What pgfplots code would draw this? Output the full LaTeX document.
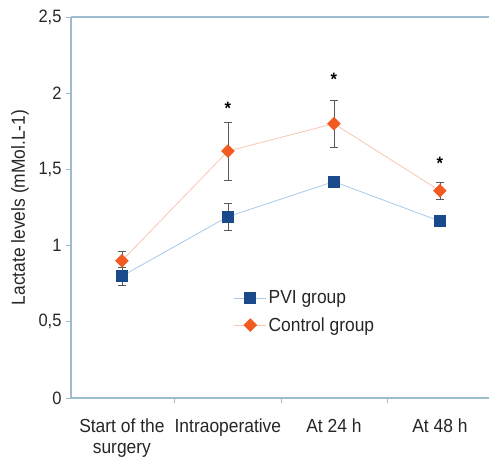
\documentclass[border=0pt]{standalone}
\usepackage{pgfplots}
\pgfplotsset{compat=1.18}
\usepackage{fontspec}
\setmainfont{Liberation Sans}[FakeStretch=0.92]
\definecolor{axisblue}{HTML}{9DBDCF}
\definecolor{pvimark}{HTML}{1B4A8C}
\definecolor{pviline}{HTML}{A9C8EA}
\definecolor{ctrlmark}{HTML}{F25A1F}
\definecolor{ctrlline}{HTML}{F9C6B2}
\definecolor{errgray}{HTML}{5A5A5A}
\definecolor{txt}{HTML}{262626}
\begin{document}
\begin{tikzpicture}
\useasboundingbox (-71bp,-60bp) rectangle (418bp,398bp);
\begin{axis}[
  at={(0,0)}, anchor=south west,
  scale only axis,
  width=418bp, height=381bp,
  xmin=-0.48, xmax=3.463,
  ymin=0, ymax=2.5,
  axis x line*=bottom,
  axis y line*=left,
  axis line style={axisblue, line width=1.2pt, -},
  xtick={0,1,2,3},
  xticklabels={Start of the\\surgery, Intraoperative, At 24 h, At 48 h},
  minor xtick={0.5,1.5,2.5},
  ytick={0,0.5,1,1.5,2,2.5},
  yticklabels={0,{0,5},1,{1,5},2,{2,5}},
  tick align=outside,
  major x tick style={draw=none},
  minor tick length=5bp,
  major tick length=5bp,
  tick style={axisblue, line width=0.8pt},
  x tick label style={align=center, yshift=-12bp, font=\fontsize{19}{21}\selectfont, text=txt},
  y tick label style={font=\fontsize{18}{20}\selectfont, text=txt, xshift=-1bp},
  ylabel={Lactate levels (mMol.L-1)},
  ylabel style={font=\fontsize{19}{21}\selectfont, text=txt, at={(ticklabel cs:0.5,3bp)}},
  legend style={draw=none, fill=none, at={(rel axis cs:0.382,0.292)}, anchor=north west, font=\fontsize{19}{21}\selectfont, row sep=8bp, text=txt},
  legend cell align=left,
  legend image code/.code={\draw[#1, mark repeat=2, mark phase=2] plot coordinates {(0bp,0bp) (16bp,0bp) (32bp,0bp)};},
  clip=false,
]
\addplot[pviline, line width=0.8pt, mark=square*, mark size=5.5bp, mark options={fill=pvimark, draw=pvimark},
  error bars/.cd, y dir=both, y explicit, error bar style={errgray, line width=0.6pt}, error mark options={rotate=90, mark size=4bp, errgray, line width=0.6pt}]
  coordinates {
  (0,0.80) +- (0,0.06)
  (1,1.19) +- (0,0.09)
  (2,1.42) +- (0,0.03)
  (3,1.16) +- (0,0.03)
  };
\addlegendentry{PVI group}
\addplot[ctrlline, line width=0.8pt, mark=square*, mark size=4.4bp, mark options={fill=ctrlmark, draw=ctrlmark, rotate=45},
  error bars/.cd, y dir=both, y explicit, error bar style={errgray, line width=0.6pt}, error mark options={rotate=90, mark size=4bp, errgray, line width=0.6pt}]
  coordinates {
  (0,0.90) +- (0,0.06)
  (1,1.62) +- (0,0.19)
  (2,1.80) +- (0,0.155)
  (3,1.36) +- (0,0.055)
  };
\addlegendentry{Control group}
\draw[axisblue, line width=1.2pt] (rel axis cs:0,1) -- (rel axis cs:1,1);
\node[font=\fontsize{18}{18}\selectfont\bfseries] at (axis cs:1,1.90) {*};
\node[font=\fontsize{18}{18}\selectfont\bfseries] at (axis cs:2,2.09) {*};
\node[font=\fontsize{18}{18}\selectfont\bfseries] at (axis cs:3,1.54) {*};
\end{axis}
\end{tikzpicture}
\end{document}
